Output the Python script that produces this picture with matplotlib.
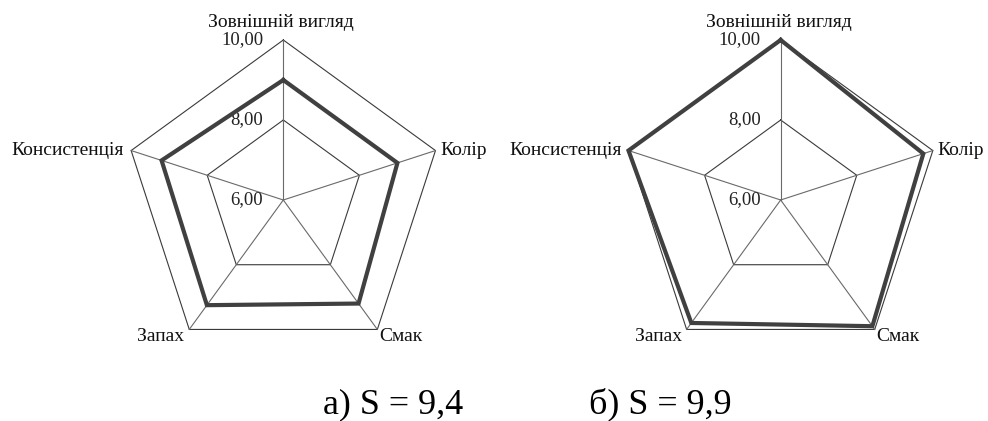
import numpy as np
import matplotlib.pyplot as plt

categories = ['Зовнішній вигляд', 'Колір', 'Смак', 'Запах', 'Консистенція']
values_a = [9.0, 9.0, 9.2, 9.25, 9.2]
values_b = [10.0, 9.75, 9.9, 9.8, 10.0]
r_ticks = [6.0, 8.0, 10.0]
tick_labels = ['6,00', '8,00', '10,00']
captions = ['а) S = 9,4', 'б) S = 9,9']

plt.rcParams['font.family'] = ['Liberation Serif', 'DejaVu Serif']

angles = np.linspace(0, 2 * np.pi, len(categories), endpoint=False)
closed = np.append(angles, angles[0])

# how each category label sits next to its outer vertex (ha, va, dx, dy in px)
label_pos = [('center', 'bottom', -2, 9),
             ('left', 'center', 5, 0),
             ('left', 'top', 2, 1),
             ('right', 'top', -5, 1),
             ('right', 'center', -7, 0)]

fig = plt.figure(figsize=(9.88, 4.21), dpi=100)


def radar(rect, values):
    ax = fig.add_axes(rect, polar=True)
    ax.set_theta_offset(np.pi / 2)
    ax.set_theta_direction(-1)
    ax.set_ylim(r_ticks[0], r_ticks[-1])
    ax.grid(False)
    ax.spines['polar'].set_visible(False)
    ax.set_xticks([])
    ax.set_yticks([])
    ax.patch.set_visible(False)

    for r in r_ticks[1:]:
        ax.plot(closed, [r] * len(closed), color='#3a3a3a', lw=0.8, clip_on=False)
    for a in angles:
        ax.plot([a, a], [r_ticks[0], r_ticks[-1]], color='#6a6a6a', lw=0.8, clip_on=False)

    ax.plot(closed, list(values) + [values[0]], color='#404040', lw=3,
            zorder=5, clip_on=False, solid_joinstyle='miter')

    for r, t in zip(r_ticks, tick_labels):
        ax.annotate(t, xy=(0, r), xytext=(-20, 0), textcoords='offset pixels',
                    ha='right', va='center', fontsize=13.5, color='#222222')
    for a, name, (ha, va, dx, dy) in zip(angles, categories, label_pos):
        ax.annotate(name, xy=(a, r_ticks[-1]), xytext=(dx, dy), textcoords='offset pixels',
                    ha=ha, va=va, fontsize=14, color='#111111')
    return ax


radar([0.1248, 0.1449, 0.3239, 0.7601], values_a)
radar([0.6282, 0.1449, 0.3239, 0.7601], values_b)

fig.text(393.5 / 988, 1 - 413 / 421, captions[0], ha='center', va='baseline', fontsize=26)
fig.text(660.5 / 988, 1 - 413 / 421, captions[1], ha='center', va='baseline', fontsize=26)

fig.savefig('out.png', dpi=100)
